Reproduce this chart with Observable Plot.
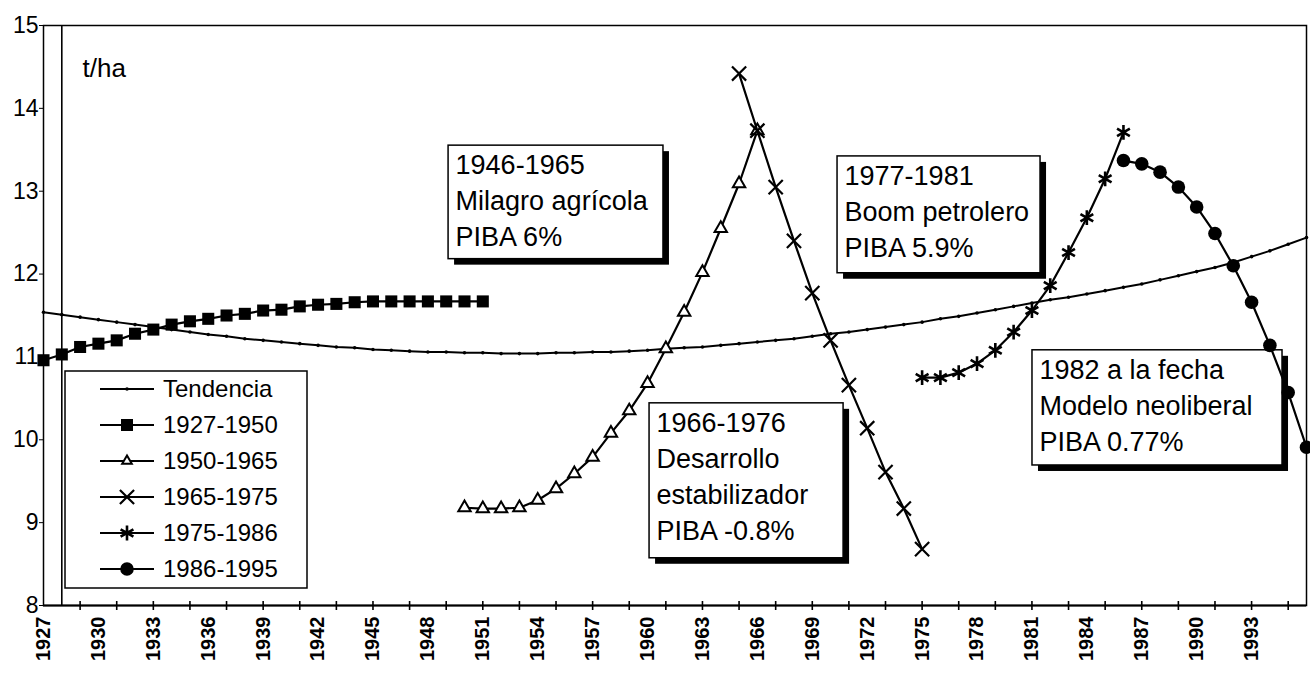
<!DOCTYPE html>
<html><head><meta charset="utf-8">
<script src="https://cdn.jsdelivr.net/npm/d3@7"></script>
<script src="https://cdn.jsdelivr.net/npm/@observablehq/plot@0.6"></script>
<style>
html,body{margin:0;padding:0;background:#fff;}
#chart{width:1310px;height:673px;position:relative;overflow:hidden;}
svg{font-family: Arial, "Liberation Sans", sans-serif;}
</style></head><body><div id="chart"></div>
<script>
// ---- data (t/ha) ----
const tendenciaStart = 1927;
const tendencia = [11.54,11.51,11.48,11.45,11.42,11.39,11.36,11.33,11.30,11.27,
  11.25,11.22,11.20,11.18,11.16,11.14,11.12,11.11,11.09,11.08,
  11.07,11.06,11.06,11.05,11.05,11.04,11.04,11.04,11.05,11.05,
  11.06,11.06,11.07,11.08,11.10,11.11,11.12,11.14,11.16,11.18,
  11.20,11.22,11.25,11.28,11.30,11.33,11.36,11.39,11.42,11.46,
  11.49,11.53,11.57,11.61,11.65,11.69,11.72,11.76,11.80,11.84,
  11.88,11.93,11.98,12.03,12.08,12.14,12.21,12.28,12.36,12.44];
const s1927Start = 1927;
const s1927 = [10.96,11.03,11.12,11.16,11.20,11.28,11.33,11.39,11.43,11.46,
  11.50,11.52,11.56,11.57,11.61,11.63,11.64,11.66,11.67,11.67,
  11.67,11.67,11.67,11.67,11.67];
const s1950Start = 1950;
const s1950 = [9.18,9.17,9.17,9.18,9.27,9.41,9.59,9.79,10.08,10.35,
  10.68,11.10,11.54,12.02,12.55,13.09,13.73];
const s1965Start = 1965;
const s1965 = [14.42,13.73,13.05,12.40,11.77,11.20,10.66,10.14,9.61,9.17,8.68];
const s1975Start = 1975;
const s1975 = [10.75,10.75,10.81,10.92,11.08,11.30,11.56,11.86,12.26,12.68,13.15,13.71];
const s1986Start = 1986;
const s1986 = [13.37,13.33,13.23,13.05,12.81,12.49,12.10,11.66,11.14,10.57,9.91];

const seriesNames = ["Tendencia","1927-1950","1950-1965","1965-1975","1975-1986","1986-1995"];
const yTicks = [8,9,10,11,12,13,14,15];
const xLabelYears = [1927,1930,1933,1936,1939,1942,1945,1948,1951,1954,1957,1960,1963,1966,1969,1972,1975,1978,1981,1984,1987,1990,1993];
const xTickYears = [1929,1931,1933,1935,1937,1939,1941,1943,1945,1947,1949,1951,1953,1955,1957,1959,1961,1963,1965,1967,1969,1971,1973,1975,1977,1979,1981,1983,1985,1987,1989,1991,1993,1995];
const unitLabel = "t/ha";
const noteTexts = [
  "1946-1965\nMilagro agrícola\nPIBA 6%",
  "1966-1976\nDesarrollo\nestabilizador\nPIBA -0.8%",
  "1977-1981\nBoom petrolero\nPIBA 5.9%",
  "1982 a la fecha\nModelo neoliberal\nPIBA 0.77%"
];

// ---- build tables ----
const toRows = (start, vals) => vals.map((v, i) => ({year: start + i, value: v}));
const tRows = toRows(tendenciaStart, tendencia);
const r1 = toRows(s1927Start, s1927);
const r2 = toRows(s1950Start, s1950);
const r3 = toRows(s1965Start, s1965);
const r4 = toRows(s1975Start, s1975);
const r5 = toRows(s1986Start, s1986);

// annotation box layout (in data units)
const noteBoxes = [
  {x1: 1949.13, x2: 1960.87, y1: 13.55, y2: 12.18},
  {x1: 1960.11, x2: 1970.71, y1: 10.44, y2: 8.57},
  {x1: 1970.38, x2: 1981.47, y1: 13.42, y2: 12.01},
  {x1: 1981.03, x2: 1994.69, y1: 11.08, y2: 9.69}
].map((b, i) => ({...b, text: noteTexts[i]}));

const S = {
  square: {symbol: "square", r: 6.8, fill: "black", stroke: "none"},
  triangle: {symbol: "triangle", r: 4.6, fill: "white", stroke: "black", strokeWidth: 2},
  times: {symbol: "times", r: 6.5, fill: "none", stroke: "black", strokeWidth: 2.2},
  asterisk: {symbol: "asterisk", r: 7, fill: "none", stroke: "black", strokeWidth: 2.6},
  circle: {symbol: "circle", r: 6.8, fill: "black", stroke: "none"}
};
const lineOpts = {x: "year", y: "value", stroke: "black", strokeWidth: 2.2};

const plot = Plot.plot({
  width: 1310, height: 673,
  marginLeft: 43, marginRight: 4, marginTop: 25, marginBottom: 68,
  x: {domain: [1927, 1996]},
  y: {domain: [8, 15]},
  style: {fontFamily: 'Arial, "Liberation Sans", sans-serif', background: "white", color: "black"},
  marks: [
    Plot.frame({stroke: "black", strokeWidth: 1.5}),
    Plot.ruleX([1928], {stroke: "black", strokeWidth: 1.6}),
    Plot.ruleY([8], {stroke: "black", strokeWidth: 2.2}),
    // annotation boxes
    Plot.rect(noteBoxes, {x1: "x1", x2: "x2", y1: "y1", y2: "y2", fill: "black", dx: 6, dy: 6}),
    Plot.rect(noteBoxes, {x1: "x1", x2: "x2", y1: "y1", y2: "y2", fill: "white", stroke: "black", strokeWidth: 1.5}),
    Plot.text(noteBoxes, {x: "x1", y: "y1", text: "text", textAnchor: "start", lineAnchor: "top", dx: 7, dy: 3, fontSize: 27, lineHeight: 1.33, fill: "black"}),
    // tendencia
    Plot.line(tRows, {...lineOpts, strokeWidth: 2}),
    Plot.dot(tRows, {x: "year", y: "value", r: 1.8, fill: "black"}),
    // series
    Plot.line(r1, lineOpts),
    Plot.dot(r1, {x: "year", y: "value", ...S.square}),
    Plot.line(r2, lineOpts),
    Plot.dot(r2, {x: "year", y: "value", ...S.triangle}),
    Plot.line(r3, lineOpts),
    Plot.dot(r3, {x: "year", y: "value", ...S.times}),
    Plot.line(r4, lineOpts),
    Plot.dot(r4, {x: "year", y: "value", ...S.asterisk}),
    Plot.line(r5, lineOpts),
    Plot.dot(r5, {x: "year", y: "value", ...S.circle}),
    // axes
    Plot.axisY({ticks: yTicks, tickSize: 4, tickPadding: 1, fontSize: 23, tickFormat: d => String(d), label: null}),
    Plot.axisX({ticks: xTickYears, tickSize: 9, dy: -4, tickFormat: () => "", label: null, strokeWidth: 1.6}),
    Plot.axisX({ticks: xLabelYears, tickSize: 0, tickPadding: 11, tickRotate: -90, fontSize: 20, fontWeight: "bold", tickFormat: d => String(d), label: null}),
    Plot.text([unitLabel], {frameAnchor: "top-left", dx: 39, dy: 33, fontSize: 26, textAnchor: "start", fill: "black"})
  ]
});
document.getElementById("chart").appendChild(plot);

// ---- legend ----
const svg = d3.select(plot);
const lg = svg.append("g").attr("class", "legend").attr("text-anchor", "start");
const L = {x: 65, y: 371, w: 242, h: 217, row0: 389, step: 36, lx1: 100, lx2: 154, tx: 163};
lg.append("rect").attr("x", L.x).attr("y", L.y).attr("width", L.w).attr("height", L.h)
  .attr("fill", "white").attr("stroke", "black").attr("stroke-width", 1.5);
const legSyms = [
  {type: d3.symbolCircle, r: 1.8, fill: "black", stroke: "none", sw: 0},
  {type: d3.symbolSquare, r: S.square.r, fill: "black", stroke: "none", sw: 0},
  {type: d3.symbolTriangle2, r: S.triangle.r, fill: "white", stroke: "black", sw: 2},
  {type: d3.symbolTimes, r: S.times.r, fill: "none", stroke: "black", sw: 2.2},
  {type: d3.symbolAsterisk, r: S.asterisk.r, fill: "none", stroke: "black", sw: 2.6},
  {type: d3.symbolCircle, r: S.circle.r, fill: "black", stroke: "none", sw: 0}
];
seriesNames.forEach((name, i) => {
  const y = L.row0 + i * L.step;
  lg.append("line").attr("x1", L.lx1).attr("x2", L.lx2).attr("y1", y).attr("y2", y)
    .attr("stroke", "black").attr("stroke-width", 2.2);
  const s = legSyms[i];
  lg.append("path").attr("d", d3.symbol(s.type, Math.PI * s.r * s.r)())
    .attr("transform", `translate(${(L.lx1 + L.lx2) / 2},${y})`)
    .attr("fill", s.fill).attr("stroke", s.stroke).attr("stroke-width", s.sw);
  lg.append("text").attr("x", L.tx).attr("y", y).attr("dy", "0.35em")
    .attr("text-anchor", "start").attr("font-size", 24).attr("fill", "black").text(name);
});
</script></body></html>
